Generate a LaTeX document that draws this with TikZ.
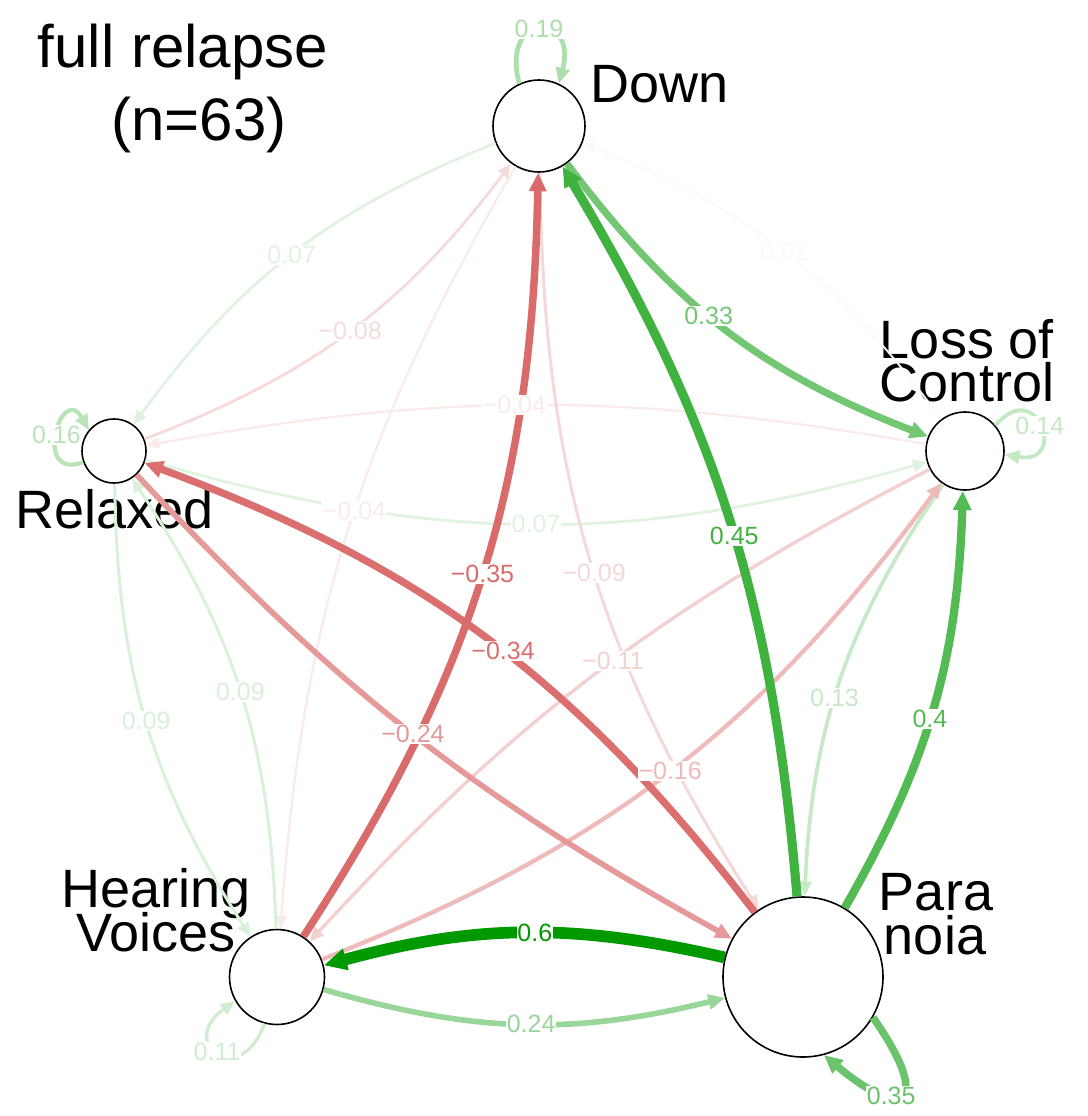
\documentclass[tikz,border=0pt]{standalone}
\usepackage{fontspec}
\setmainfont{Liberation Sans}
\usetikzlibrary{arrows.meta}
\definecolor{posc}{HTML}{009900}
\definecolor{negc}{HTML}{BF0000}
\newcommand\bigfont{\fontsize{54}{54}\selectfont}
\newcommand\titlefont{\fontsize{60}{60}\selectfont}
\newcommand\labfont{\fontsize{25}{25}\selectfont}
\newcommand\myDrawEdge[8]{\draw[tip,line width=#6pt,#4!#5!white] (#1) to[bend right=#8] (#2);}
\newcommand\myLabEdge[8]{\path (#1) to[bend right=#8] node[elab,pos=#7,text=#4!#5!white] {#3} (#2);}
\newcommand\myEdgeList{%
\EDGE{L}{D}{0.02}{posc}{3}{1.85}{0.5}{16}
\EDGE{L}{R}{−0.04}{negc}{8}{2.2}{0.53}{10}
\EDGE{D}{H}{−0.04}{negc}{8}{2.2}{0.47}{13}
\EDGE{D}{R}{0.07}{posc}{12}{2.7}{0.5}{16}
\EDGE{R}{L}{0.07}{posc}{12}{2.7}{0.5}{16}
\EDGE{R}{D}{−0.08}{negc}{14}{2.85}{0.5}{16}
\EDGE{D}{P}{−0.09}{negc}{15}{3.0}{0.52}{16}
\EDGE{R}{H}{0.09}{posc}{15}{3.0}{0.5}{16}
\EDGE{H}{R}{0.09}{posc}{15}{3.0}{0.5}{16}
\EDGE{L}{H}{−0.11}{negc}{18}{3.4}{0.47}{10}
\EDGE{L}{P}{0.13}{posc}{22}{3.7}{0.55}{16}
\EDGE{H}{L}{−0.16}{negc}{27}{4.2}{0.5}{16}
\EDGE{R}{P}{−0.24}{negc}{40}{5.6}{0.5}{9}
\EDGE{H}{P}{0.24}{posc}{40}{5.6}{0.52}{15}
\EDGE{D}{L}{0.33}{posc}{55}{7.1}{0.45}{16}
\EDGE{P}{R}{−0.34}{negc}{57}{7.3}{0.47}{16}
\EDGE{H}{D}{−0.35}{negc}{58}{7.45}{0.5}{16}
\EDGE{P}{L}{0.4}{posc}{67}{8.3}{0.47}{14}
\EDGE{P}{D}{0.45}{posc}{75}{9.15}{0.47}{13}
\EDGE{P}{H}{0.6}{posc}{100}{11.7}{0.47}{14}
}
\begin{document}
\begin{tikzpicture}[x=1pt,y=1pt,
  vert/.style={circle,draw=black,line width=1.6pt,fill=white,inner sep=0pt},
  ntext/.style={font=\bigfont,anchor=base,inner sep=0pt},
  ttext/.style={font=\titlefont,anchor=base,inner sep=0pt},
  elab/.style={font=\labfont,fill=white,inner sep=0.5pt,text height=18pt,text depth=1pt},
  tip/.style={-{Triangle[length=11pt 1,width=9pt 1]}},
]
\useasboundingbox (0,0) rectangle (1087,-1116);
\fill[white] (0,0) rectangle (1087,-1116);
% vertices
\node[vert,minimum size=92pt]  (D) at (539,-126) {};
\node[vert,minimum size=64pt]  (R) at (114,-451) {};
\node[vert,minimum size=78pt]  (L) at (965,-451) {};
\node[vert,minimum size=95pt]  (H) at (277,-977) {};
\node[vert,minimum size=160pt] (P) at (803,-977) {};
% texts
\node[ttext] (t1) at (183,-67) {full relapse};
\node[ttext] (t2) at (199,-140) {(n=63)};
\node[ntext,anchor=base west] (tD) at (590,-102) {Down};
\node[ntext] (tL1) at (967,-358) {Loss of};
\node[ntext] (tL2) at (967,-401) {Control};
\node[ntext,anchor=base west] (tR) at (15,-528) {Relaxed};
\node[ntext] (tH1) at (156,-907) {Hearing};
\node[ntext] (tH2) at (156,-951) {Voices};
\node[ntext] (tP1) at (936,-910) {Para};
\node[ntext] (tP2) at (935,-954) {noia};
% edges
\let\EDGE\myDrawEdge
\myEdgeList
\let\EDGE\myLabEdge
\myEdgeList
% self loops
\draw[tip,line width=4.7pt,posc!32!white] (D.115) to[out=105,in=75,distance=75pt]
  node[elab,pos=0.5,text=posc!32!white] {0.19} (D.65);
\draw[tip,line width=4.2pt,posc!27!white] (R.200) to[out=200,in=120,distance=55pt]
  node[elab,pos=0.5,text=posc!27!white] {0.16} (R.140);
\draw[tip,line width=3.9pt,posc!23!white] (L.40) to[out=50,in=-10,distance=65pt]
  node[elab,pos=0.5,text=posc!23!white] {0.14} (L.-5);
\draw[tip,line width=3.4pt,posc!18!white] (H.-105) to[out=-110,in=215,distance=72pt]
  node[elab,pos=0.52,text=posc!18!white] {0.11} (H.210);
\draw[tip,line width=7.45pt,posc!58!white] (P.-30) to[out=-55,in=-40,distance=105pt]
  node[elab,pos=0.62,text=posc!58!white] {0.35} (P.-75);
\end{tikzpicture}
\end{document}
